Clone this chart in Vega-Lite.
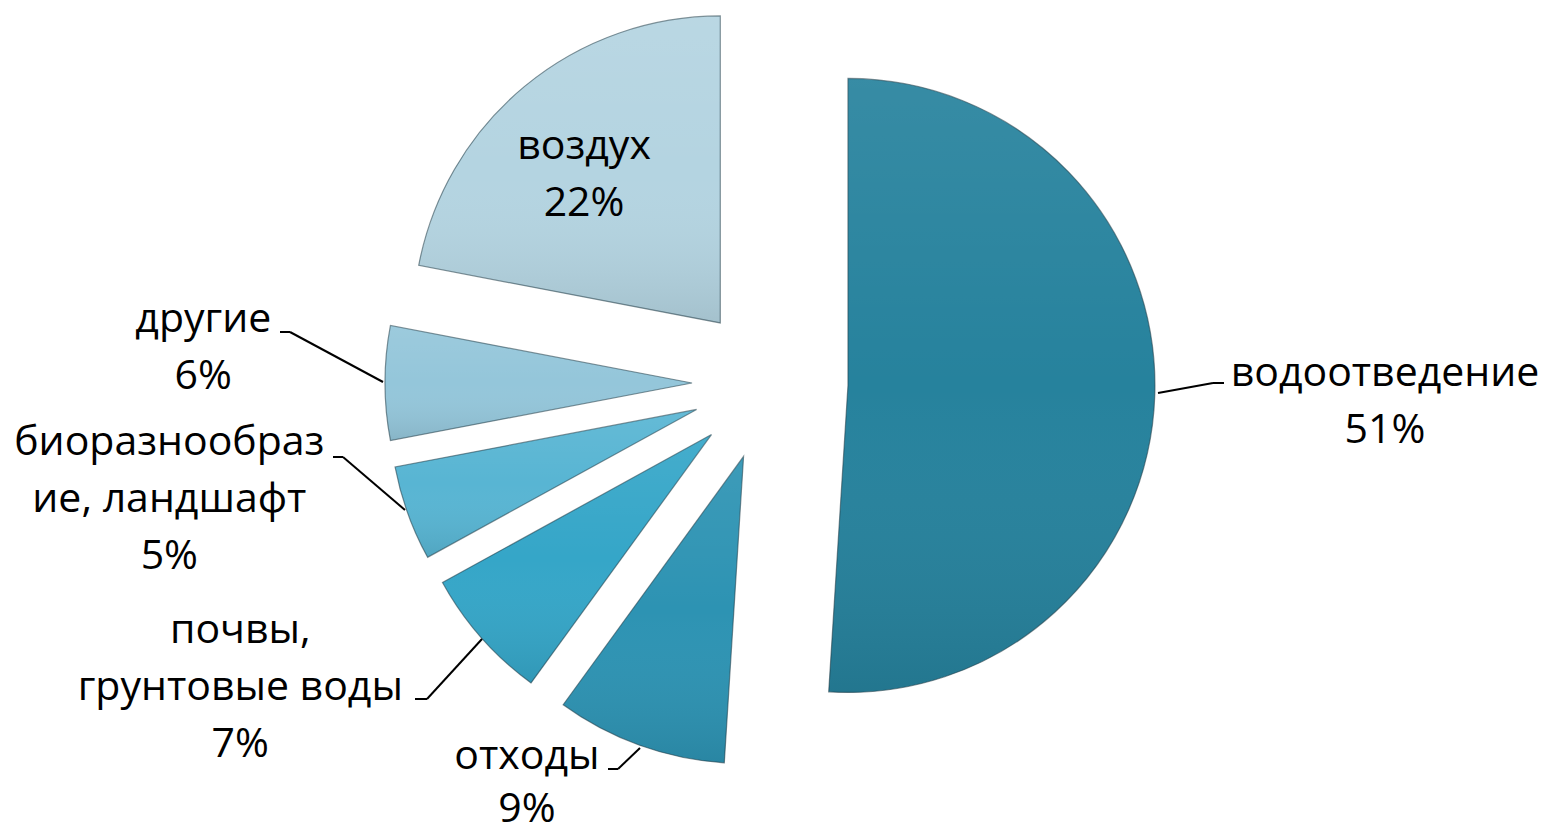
{
  "$schema": "https://vega.github.io/schema/vega-lite/v6.json",
  "autosize": "none",
  "width": 1540,
  "height": 766,
  "padding": {"left": 0, "top": 0, "right": 7, "bottom": 72},
  "background": "white",
  "config": {
    "view": {"stroke": null},
    "text": {"font": "Open Sans", "fontSize": 41, "lineHeight": 57, "color": "#000000"},
    "rule": {"color": "#000000", "strokeWidth": 2}
  },
  "data": {
    "values": [
      {"category": "водоотведение", "value": 51, "label": ["водоотведение", "51%"]},
      {"category": "отходы", "value": 9, "label": ["отходы", "9%"]},
      {"category": "почвы, грунтовые воды", "value": 7, "label": ["почвы,", "грунтовые воды", "7%"]},
      {"category": "биоразнообразие, ландшафт", "value": 5, "label": ["биоразнообраз", "ие, ландшафт", "5%"]},
      {"category": "другие", "value": 6, "label": ["другие", "6%"]},
      {"category": "воздух", "value": 22, "label": ["воздух", "22%"]}
    ]
  },
  "layer": [
    {
      "transform": [{"window": [{"op": "row_number", "as": "idx"}]}],
      "mark": {
        "type": "arc",
        "radius": 307,
        "x": {"expr": "width/2 + 78*sin((scale('theta', datum.value_start) + scale('theta', datum.value_end))/2)"},
        "y": {"expr": "height/2 - 78*cos((scale('theta', datum.value_start) + scale('theta', datum.value_end))/2)"},
        "stroke": "#1f3a45",
        "strokeWidth": 1.2,
        "strokeOpacity": 0.55
      },
      "encoding": {
        "theta": {"field": "value", "type": "quantitative", "stack": true},
        "order": {"field": "idx", "type": "quantitative"},
        "color": {
          "field": "category",
          "type": "nominal",
          "scale": {
            "domain": ["водоотведение", "отходы", "почвы, грунтовые воды", "биоразнообразие, ландшафт", "другие", "воздух"],
            "range": ["#26829D", "#2D93B3", "#35A6C8", "#58B5D3", "#94C6DA", "#B4D4E1"]
          },
          "legend": null
        }
      }
    },
    {
      "transform": [{"window": [{"op": "row_number", "as": "idx"}]}],
      "mark": {
        "type": "arc",
        "radius": 307,
        "x": {"expr": "width/2 + 78*sin((scale('theta', datum.value_start) + scale('theta', datum.value_end))/2)"},
        "y": {"expr": "height/2 - 78*cos((scale('theta', datum.value_start) + scale('theta', datum.value_end))/2)"},
        "fill": {
          "gradient": "linear",
          "x1": 0, "y1": 0, "x2": 0, "y2": 1,
          "stops": [
            {"offset": 0, "color": "rgba(255,255,255,0.08)"},
            {"offset": 0.5, "color": "rgba(255,255,255,0)"},
            {"offset": 1, "color": "rgba(0,0,0,0.09)"}
          ]
        }
      },
      "encoding": {
        "theta": {"field": "value", "type": "quantitative", "stack": true},
        "order": {"field": "idx", "type": "quantitative"}
      }
    },
    {
      "transform": [{"filter": "datum.category === 'водоотведение'"}],
      "mark": {"type": "text", "theta": 1.5757, "radius": 615, "align": "center", "baseline": "alphabetic"},
      "encoding": {"text": {"field": "label"}}
    },
    {
      "transform": [{"filter": "datum.category === 'отходы'"}],
      "mark": {"type": "text", "theta": 3.6943, "radius": 463, "align": "center", "baseline": "alphabetic", "dy": -8, "lineHeight": 53},
      "encoding": {"text": {"field": "label"}}
    },
    {
      "transform": [{"filter": "datum.category === 'почвы, грунтовые воды'"}],
      "mark": {"type": "text", "theta": 4.2564, "radius": 590, "align": "center", "baseline": "alphabetic"},
      "encoding": {"text": {"field": "label"}}
    },
    {
      "transform": [{"filter": "datum.category === 'биоразнообразие, ландшафт'"}],
      "mark": {"type": "text", "theta": 4.593, "radius": 605, "align": "center", "baseline": "alphabetic"},
      "encoding": {"text": {"field": "label"}}
    },
    {
      "transform": [{"filter": "datum.category === 'другие'"}],
      "mark": {"type": "text", "theta": 4.8021, "radius": 569, "align": "center", "baseline": "alphabetic"},
      "encoding": {"text": {"field": "label"}}
    },
    {
      "transform": [{"filter": "datum.category === 'воздух'"}],
      "mark": {"type": "text", "theta": 5.590, "radius": 291, "align": "center", "baseline": "alphabetic"},
      "encoding": {"text": {"field": "label"}}
    },
    {
      "transform": [{"filter": "datum.category === 'водоотведение'"}],
      "mark": {"type": "rule"},
      "encoding": {
        "x": {"value": {"expr": "width/2 + 388"}}, "y": {"value": {"expr": "height/2 + 10"}},
        "x2": {"value": {"expr": "width/2 + 443"}}, "y2": {"value": {"expr": "height/2"}}
      }
    },
    {
      "transform": [{"filter": "datum.category === 'водоотведение'"}],
      "mark": {"type": "rule"},
      "encoding": {
        "x": {"value": {"expr": "width/2 + 443"}}, "y": {"value": {"expr": "height/2"}},
        "x2": {"value": {"expr": "width/2 + 454"}}, "y2": {"value": {"expr": "height/2"}}
      }
    },
    {
      "transform": [{"filter": "datum.category === 'другие'"}],
      "mark": {"type": "rule"},
      "encoding": {
        "x": {"value": {"expr": "width/2 - 490"}}, "y": {"value": {"expr": "height/2 - 51"}},
        "x2": {"value": {"expr": "width/2 - 480"}}, "y2": {"value": {"expr": "height/2 - 51"}}
      }
    },
    {
      "transform": [{"filter": "datum.category === 'другие'"}],
      "mark": {"type": "rule"},
      "encoding": {
        "x": {"value": {"expr": "width/2 - 480"}}, "y": {"value": {"expr": "height/2 - 51"}},
        "x2": {"value": {"expr": "width/2 - 387"}}, "y2": {"value": {"expr": "height/2 - 1"}}
      }
    },
    {
      "transform": [{"filter": "datum.category === 'биоразнообразие, ландшафт'"}],
      "mark": {"type": "rule"},
      "encoding": {
        "x": {"value": {"expr": "width/2 - 437"}}, "y": {"value": {"expr": "height/2 + 74"}},
        "x2": {"value": {"expr": "width/2 - 427"}}, "y2": {"value": {"expr": "height/2 + 74"}}
      }
    },
    {
      "transform": [{"filter": "datum.category === 'биоразнообразие, ландшафт'"}],
      "mark": {"type": "rule"},
      "encoding": {
        "x": {"value": {"expr": "width/2 - 427"}}, "y": {"value": {"expr": "height/2 + 74"}},
        "x2": {"value": {"expr": "width/2 - 365"}}, "y2": {"value": {"expr": "height/2 + 127"}}
      }
    },
    {
      "transform": [{"filter": "datum.category === 'почвы, грунтовые воды'"}],
      "mark": {"type": "rule"},
      "encoding": {
        "x": {"value": {"expr": "width/2 - 355"}}, "y": {"value": {"expr": "height/2 + 316"}},
        "x2": {"value": {"expr": "width/2 - 343"}}, "y2": {"value": {"expr": "height/2 + 316"}}
      }
    },
    {
      "transform": [{"filter": "datum.category === 'почвы, грунтовые воды'"}],
      "mark": {"type": "rule"},
      "encoding": {
        "x": {"value": {"expr": "width/2 - 343"}}, "y": {"value": {"expr": "height/2 + 316"}},
        "x2": {"value": {"expr": "width/2 - 288"}}, "y2": {"value": {"expr": "height/2 + 256"}}
      }
    },
    {
      "transform": [{"filter": "datum.category === 'отходы'"}],
      "mark": {"type": "rule"},
      "encoding": {
        "x": {"value": {"expr": "width/2 - 162"}}, "y": {"value": {"expr": "height/2 + 386"}},
        "x2": {"value": {"expr": "width/2 - 152"}}, "y2": {"value": {"expr": "height/2 + 386"}}
      }
    },
    {
      "transform": [{"filter": "datum.category === 'отходы'"}],
      "mark": {"type": "rule"},
      "encoding": {
        "x": {"value": {"expr": "width/2 - 152"}}, "y": {"value": {"expr": "height/2 + 386"}},
        "x2": {"value": {"expr": "width/2 - 130"}}, "y2": {"value": {"expr": "height/2 + 365"}}
      }
    }
  ]
}
